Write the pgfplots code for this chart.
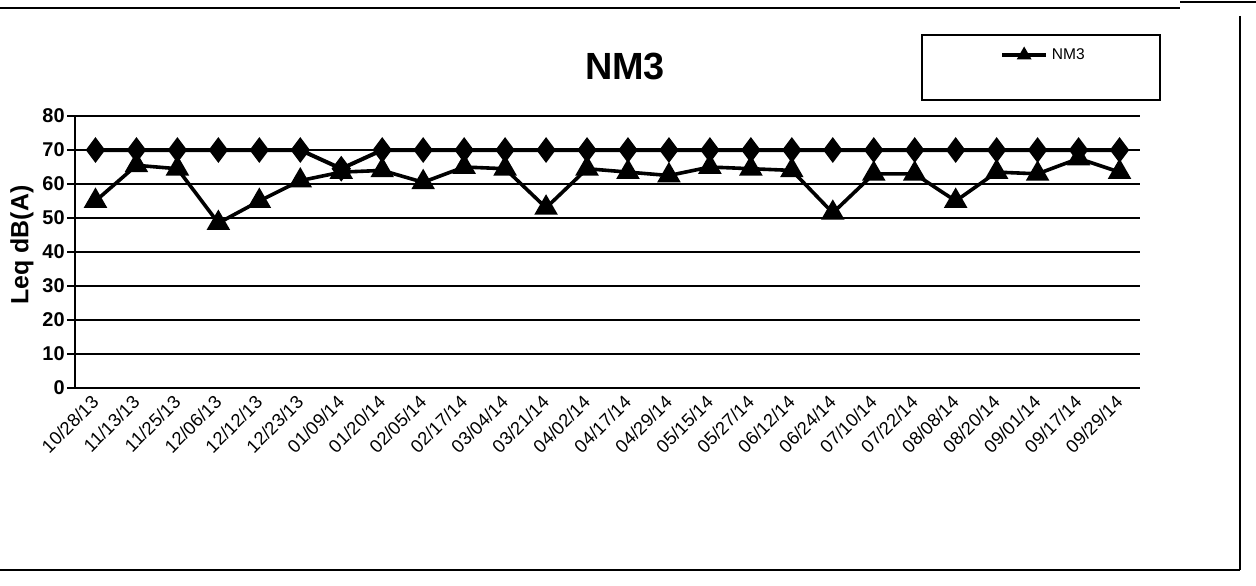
\documentclass[border=0pt]{standalone}
\usepackage{pgfplots}
\usepackage{pgfplotstable}
\pgfplotsset{compat=1.18}
\usepackage{fontspec}
\setmainfont{Liberation Sans}

% x = category index, lim = diamond series, nm3 = measured Leq
\pgfplotstableread{
x lim nm3
0 70 55
1 70 65.5
2 70 64.5
3 70 48.5
4 70 55
5 70 61
6 64.5 63.5
7 70 64
8 70 60.5
9 70 65
10 70 64.5
11 70 53
12 70 64.5
13 70 63.5
14 70 62.5
15 70 65
16 70 64.5
17 70 64
18 70 51.5
19 70 63
20 70 63
21 70 55
22 70 63.5
23 70 63
24 70 67.5
25 70 63.5
}\nmdata

\begin{document}
\begin{tikzpicture}
\path[use as bounding box] (0,0) rectangle (628bp,293bp);
\begin{axis}[
    at={(37.5bp,99bp)}, anchor=south west,
    scale only axis, width=532.5bp, height=136bp,
    xmin=-0.5, xmax=25.5,
    ymin=0, ymax=80,
    xtick={0,...,25},
    xticklabels={10/28/13,11/13/13,11/25/13,12/06/13,12/12/13,12/23/13,
        01/09/14,01/20/14,02/05/14,02/17/14,03/04/14,03/21/14,04/02/14,
        04/17/14,04/29/14,05/15/14,05/27/14,06/12/14,06/24/14,07/10/14,
        07/22/14,08/08/14,08/20/14,09/01/14,09/17/14,09/29/14},
    ytick={0,10,...,80},
    axis x line*=bottom, axis y line*=left,
    axis line style={line width=1bp, -},
    ymajorgrids,
    major grid style={line width=0.9bp, black},
    tick align=outside,
    major tick length=4bp,
    xtick style={draw=none},
    ytick style={line width=0.9bp, black},
    /pgf/number format/assume math mode=true,
    yticklabel style={font=\bfseries\fontsize{10}{12}\selectfont, inner sep=1bp},
    xticklabel style={font=\fontsize{9.2}{11}\selectfont, rotate=45, anchor=east, inner sep=1bp, yshift=-1bp},
    legend style={draw=none, fill=none, at={(0.8685,1.224)}, anchor=west,
        font=\fontsize{7.8}{9}\selectfont, inner sep=0pt},
    legend image code/.code={\draw[mark repeat=2, mark phase=2, #1, mark size=2.5bp]
        plot coordinates {(0bp,0bp) (11bp,0bp) (22bp,0bp)};},
]
\addplot[black, line width=2bp, mark=diamond*, mark size=4.8bp, forget plot]
    table[x=x, y=lim] {\nmdata};
\addplot[black, line width=1.8bp, mark=triangle*, mark size=5bp]
    table[x=x, y=nm3] {\nmdata};
\addlegendentry{NM3}
\end{axis}
\node[font=\bfseries\fontsize{19}{22}\selectfont] at (312.5bp,259.5bp) {NM3};
\node[font=\bfseries\fontsize{12.5}{15}\selectfont, rotate=90] at (11bp,170.5bp) {Leq dB(A)};
\draw[line width=0.8bp] (461bp,243bp) rectangle (580bp,275.5bp);
\draw[line width=1bp] (0bp,289bp) -- (590bp,289bp);
\draw[line width=1bp] (590bp,292bp) -- (628bp,292bp);
\draw[line width=1bp] (620bp,285bp) -- (620bp,8bp);
\draw[line width=1bp] (0bp,8bp) -- (620bp,8bp);
\end{tikzpicture}
\end{document}
